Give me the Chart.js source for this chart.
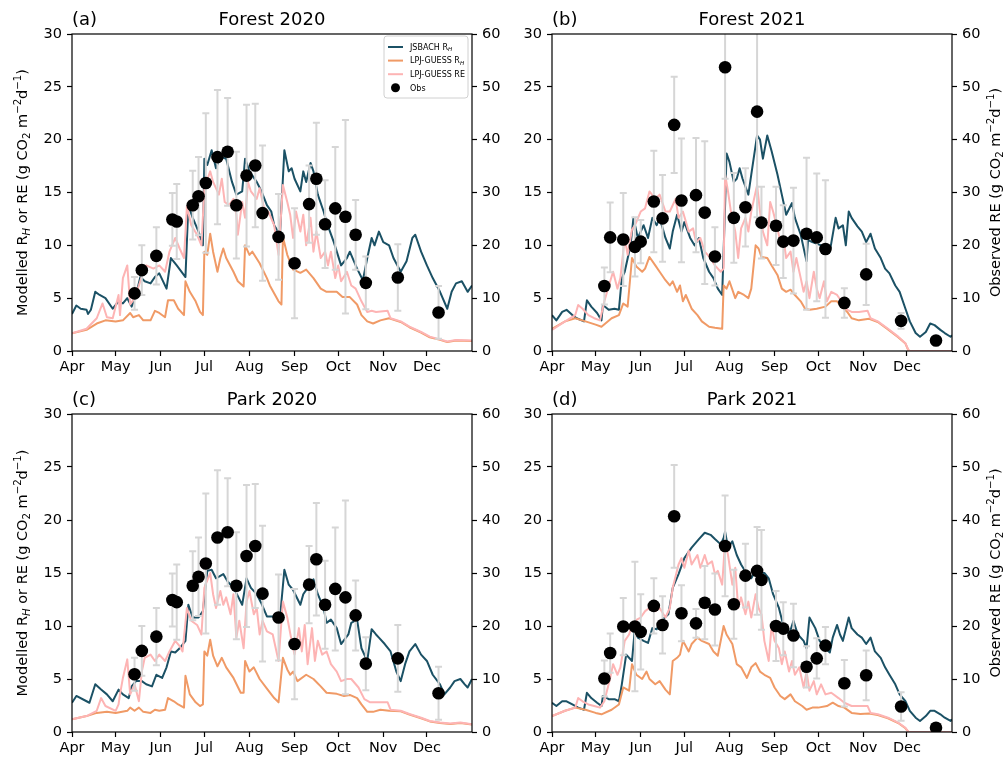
<!DOCTYPE html>
<html>
<head>
<meta charset="utf-8">
<title>Modelled vs observed respiration</title>
<script src="https://cdn.jsdelivr.net/npm/chart.js@4.4.1/dist/chart.umd.min.js"></script>
<style>
    html, body { margin: 0; padding: 0; background: #fff; }
    #figure { position: relative; width: 1008px; height: 763px; }
    #figure canvas { position: absolute; }
</style>
</head>
<body>
<div id="figure">
    <canvas id="panelA" width="504" height="382" style="left:0;top:0"></canvas>
    <canvas id="panelB" width="504" height="382" style="left:504px;top:0"></canvas>
    <canvas id="panelC" width="504" height="381" style="left:0;top:382px"></canvas>
    <canvas id="panelD" width="504" height="381" style="left:504px;top:382px"></canvas>
</div>
<script>
// ===== Data (x = days since 1 April, y = g CO2 m-2 d-1) =====

const monthStarts = [0, 30, 61, 91, 122, 153, 183, 214, 244];
const monthNames = ['Apr', 'May', 'Jun', 'Jul', 'Aug', 'Sep', 'Oct', 'Nov', 'Dec'];

// --- Forest 2020 ---
const forest2020Jsbach = [[0,3.5],[3,4.3],[6,4.0],[10,3.9],[11,3.5],[13,3.9],[16,5.6],[19,5.3],[23,5.0],[28,4.0],[32,4.7],[35,4.5],[38,5.0],[41,4.2],[44,5.3],[47,7.0],[50,6.6],[54,6.4],[57,7.0],[60,7.35],[65,5.9],[68,8.8],[72,8.1],[78,7.0],[80,13.8],[83,12.6],[87,11.3],[90,10.0],[91,18.2],[93,17.6],[96,19.0],[99,17.3],[102,18.4],[106,18.2],[110,16.0],[113,14.8],[117,15.1],[119,18.2],[122,17.0],[127,16.0],[130,15.2],[134,13.8],[137,13.2],[139,11.9],[143,11.0],[146,19.0],[149,17.0],[151,17.3],[153,16.3],[157,15.1],[159,17.0],[161,16.0],[164,17.8],[166,17.0],[169,14.8],[173,13.2],[175,12.2],[180,10.3],[185,8.1],[189,8.8],[191,9.4],[196,7.8],[200,6.7],[203,8.8],[206,10.7],[208,10.0],[211,11.3],[214,10.3],[218,10.0],[221,8.8],[226,7.5],[230,8.5],[234,10.7],[236,11.0],[240,9.4],[244,8.1],[248,6.9],[253,5.6],[258,4.0],[261,5.6],[264,6.4],[268,6.6],[272,5.6],[275,6.2]];
const forest2020LpjRh = [[0,1.67],[10,2.0],[17,2.6],[23,2.9],[30,2.8],[35,2.9],[40,3.6],[42,3.2],[46,3.4],[49,2.9],[54,2.9],[57,3.8],[60,3.6],[64,3.2],[66,4.8],[70,4.8],[73,4.0],[77,3.4],[78,6.6],[81,5.6],[85,4.7],[88,3.7],[90,3.4],[91,9.4],[93,9.1],[95,11.1],[97,9.4],[100,7.5],[102,8.8],[104,9.7],[106,8.8],[111,7.5],[114,6.6],[118,6.1],[119,10.0],[122,9.1],[124,9.4],[129,8.3],[134,6.9],[136,6.2],[142,4.7],[144,4.4],[145,10.8],[148,9.1],[152,7.7],[157,7.4],[161,7.7],[166,6.9],[171,5.9],[175,5.6],[182,5.6],[186,5.1],[191,5.1],[196,4.4],[199,3.4],[203,2.8],[207,2.6],[212,2.9],[218,3.1],[226,2.75],[232,2.25],[240,1.75],[246,1.3],[253,1.05],[258,0.85],[264,1.0],[275,0.95]];
const forest2020LpjRe = [[0,1.67],[10,2.1],[17,3.1],[21,4.5],[24,3.2],[28,3.1],[32,5.3],[33,3.4],[35,6.9],[38,8.1],[40,4.4],[43,5.0],[46,6.2],[49,7.5],[51,8.1],[56,7.8],[60,8.1],[64,7.5],[67,9.4],[71,10.7],[74,9.7],[77,8.8],[79,13.7],[82,11.9],[86,11.0],[89,10.0],[91,15.4],[95,17.0],[97,16.0],[101,14.8],[103,16.3],[105,14.1],[108,13.8],[111,14.4],[113,12.9],[114,11.0],[117,14.1],[119,12.6],[121,16.0],[123,15.1],[127,14.4],[129,15.4],[133,12.9],[135,13.2],[139,11.9],[142,9.1],[145,15.7],[148,14.1],[150,12.9],[152,10.7],[154,13.2],[157,11.3],[159,12.9],[161,10.0],[164,12.6],[166,9.4],[168,11.3],[171,8.8],[174,9.4],[176,8.1],[178,9.4],[181,6.9],[183,8.1],[185,6.6],[189,7.5],[192,6.2],[195,5.9],[199,4.7],[203,3.7],[206,3.8],[209,3.7],[217,3.8],[219,3.1],[226,2.8],[232,2.3],[240,1.8],[246,1.36],[253,1.1],[258,0.9],[264,1.04],[275,1.0]];

// --- Park 2020 ---
const park2020Jsbach = [[0,2.76],[3,3.4],[10,2.9],[12,2.76],[16,4.5],[20,4.0],[24,3.55],[28,2.9],[32,4.0],[35,3.55],[39,3.2],[41,4.3],[44,4.8],[48,4.8],[51,4.5],[55,4.3],[58,5.4],[62,5.1],[65,6.1],[68,7.6],[71,7.5],[74,7.9],[78,8.6],[80,12.0],[83,10.8],[87,10.8],[90,11.4],[93,15.2],[96,15.3],[99,14.5],[104,14.9],[107,14.2],[111,13.6],[113,13.1],[117,12.0],[120,14.5],[123,13.6],[127,13.0],[130,12.2],[134,10.9],[138,10.9],[143,10.8],[146,15.3],[149,13.9],[152,13.4],[157,12.0],[159,13.0],[162,13.6],[166,14.4],[169,13.0],[173,11.7],[175,10.3],[178,10.6],[182,9.8],[185,8.3],[190,9.2],[192,10.3],[196,10.6],[199,7.9],[203,6.7],[206,9.7],[209,9.2],[211,8.9],[215,8.3],[219,7.6],[223,5.7],[226,4.8],[229,6.4],[232,7.6],[236,8.3],[240,7.3],[244,6.7],[248,5.4],[253,4.5],[256,3.55],[260,4.2],[263,4.8],[267,5.0],[270,4.5],[272,4.2],[275,5.0]];
const park2020LpjRh = [[0,1.2],[10,1.5],[17,1.8],[24,1.9],[30,1.8],[38,2.0],[40,2.3],[43,2.0],[46,2.3],[49,1.9],[54,1.8],[57,2.1],[60,2.0],[64,2.1],[66,3.2],[70,2.9],[73,2.6],[77,2.3],[78,5.3],[81,3.55],[85,2.8],[88,2.45],[90,2.6],[91,7.6],[93,7.2],[95,8.7],[97,7.2],[100,6.2],[103,7.0],[106,6.1],[111,5.1],[116,3.7],[118,3.7],[119,6.7],[122,5.7],[125,6.1],[129,5.0],[134,4.1],[139,3.2],[142,2.8],[145,7.0],[148,5.9],[150,5.4],[152,5.7],[155,4.8],[161,5.4],[166,5.0],[171,4.3],[175,3.7],[182,3.6],[187,3.4],[191,3.5],[196,3.2],[199,2.6],[203,1.9],[207,1.9],[212,2.1],[218,2.0],[226,1.95],[232,1.65],[240,1.3],[246,1.0],[253,0.85],[260,0.75],[267,0.85],[275,0.7]];
const park2020LpjRe = [[0,1.2],[10,1.5],[17,2.0],[20,3.2],[23,2.45],[30,2.0],[32,2.6],[33,3.55],[35,5.1],[38,6.85],[40,3.55],[43,4.5],[46,2.9],[48,5.7],[50,7.0],[54,7.3],[57,6.7],[60,7.3],[64,6.7],[67,7.6],[71,8.6],[74,8.1],[76,7.6],[79,11.7],[82,10.5],[86,10.1],[89,9.2],[91,13.6],[95,15.0],[97,13.0],[99,11.7],[102,13.3],[104,12.0],[106,12.7],[109,11.1],[111,13.0],[113,8.9],[115,10.5],[118,7.9],[120,12.3],[122,13.3],[125,11.1],[127,11.7],[129,9.2],[131,10.5],[134,9.5],[138,9.2],[142,6.7],[145,12.3],[148,10.8],[151,8.6],[153,7.3],[156,9.8],[158,7.6],[160,10.1],[162,6.4],[165,9.8],[167,6.7],[169,8.6],[172,7.3],[175,7.6],[178,6.4],[182,5.7],[185,4.8],[189,5.0],[192,5.0],[197,4.2],[201,3.1],[205,2.8],[209,2.8],[217,2.8],[219,2.1],[226,2.0],[232,1.7],[240,1.35],[246,1.04],[253,0.9],[260,0.8],[267,0.9],[275,0.72]];

// --- Observations 2020 (same site series in both 2020 panels, right axis) ---
const obsDays2020 = [43, 48, 58, 69, 72, 83, 87, 92, 100, 107, 113, 120, 126, 131, 142, 153, 163, 168, 174, 181, 188, 195, 202, 224, 252];
const obs2020 = [10.9, 15.3, 18.0, 24.9, 24.5, 27.6, 29.3, 31.8, 36.7, 37.7, 27.6, 33.2, 35.1, 26.1, 21.6, 16.6, 27.8, 32.6, 24.0, 27.0, 25.4, 22.0, 12.9, 13.9, 7.3];
const obsErr2020 = [3.1, 4.7, 5.4, 5.0, 7.1, 6.5, 7.4, 13.2, 12.7, 10.2, 10.1, 13.4, 11.7, 12.8, 8.1, 10.4, 7.3, 10.6, 8.3, 11.6, 18.3, 6.6, 5.0, 6.3, 5.0];

// --- Forest 2021 ---
const forest2021Jsbach = [[0,3.4],[3,2.9],[7,3.7],[10,3.9],[14,3.4],[17,3.1],[22,2.8],[24,4.8],[27,4.2],[31,3.6],[34,2.9],[35,4.35],[39,3.9],[43,4.0],[46,3.9],[48,6.9],[50,7.5],[54,10.0],[56,12.6],[59,10.7],[63,11.9],[66,10.7],[69,12.6],[72,11.9],[74,12.6],[78,10.7],[81,9.7],[83,11.3],[86,12.9],[89,11.3],[91,12.2],[95,10.7],[98,10.0],[101,10.7],[104,8.8],[108,7.5],[111,6.9],[114,5.9],[117,5.3],[119,13.8],[120,18.7],[122,17.9],[125,16.0],[127,16.3],[129,17.3],[131,16.3],[135,14.8],[137,16.7],[141,20.4],[143,20.0],[145,18.2],[148,20.4],[151,18.9],[155,16.7],[158,14.8],[161,12.9],[165,14.0],[167,12.6],[171,11.0],[175,8.5],[176,10.5],[179,10.3],[185,10.0],[191,9.4],[195,12.6],[197,11.6],[200,11.9],[202,10.0],[204,13.2],[206,12.6],[210,11.8],[213,11.3],[216,10.3],[219,11.1],[222,9.7],[226,8.8],[229,7.8],[232,7.35],[236,6.2],[239,5.6],[243,4.0],[246,2.8],[250,1.7],[253,1.35],[257,1.8],[260,2.6],[263,2.45],[267,2.0],[270,1.7],[274,1.35],[275,1.5]];
const forest2021LpjRh = [[0,2.1],[9,2.8],[16,3.1],[23,2.8],[30,2.5],[34,2.3],[41,3.1],[46,3.4],[49,4.5],[52,4.2],[55,8.8],[58,8.0],[62,7.5],[64,7.8],[67,8.9],[71,8.1],[74,7.5],[78,6.7],[81,6.2],[83,6.6],[86,5.6],[88,6.2],[90,4.7],[92,5.3],[96,4.0],[100,3.4],[103,2.8],[108,2.3],[112,2.2],[117,2.1],[118,6.2],[120,5.9],[122,6.6],[126,5.0],[128,5.6],[132,5.3],[135,5.0],[137,5.9],[140,10.0],[142,9.7],[144,8.9],[148,8.8],[151,8.1],[155,7.2],[158,5.9],[161,5.6],[164,5.8],[167,5.3],[171,4.7],[174,4.0],[177,3.9],[182,4.0],[188,4.2],[192,4.7],[196,4.7],[199,4.2],[203,3.7],[206,3.1],[211,2.9],[218,3.05],[224,2.75],[231,2.05],[238,1.3],[243,0.7],[245,0.05],[246,0],[275,0]];
const forest2021LpjRe = [[0,2.0],[9,2.8],[16,3.4],[18,4.35],[21,4.0],[25,3.4],[29,3.1],[33,2.9],[36,4.7],[40,6.6],[42,7.5],[45,5.9],[47,6.9],[50,10.7],[52,9.1],[55,11.5],[57,11.9],[61,13.2],[64,13.5],[67,15.1],[71,14.4],[74,14.8],[78,13.2],[81,13.2],[85,14.4],[87,12.6],[90,13.2],[94,11.3],[97,11.6],[99,10.3],[102,10.7],[105,9.4],[109,8.8],[112,8.1],[116,7.5],[118,7.8],[119,16.7],[121,15.1],[123,13.2],[126,11.3],[128,8.8],[130,11.6],[133,12.6],[135,11.3],[137,13.2],[141,15.7],[143,13.2],[145,11.3],[148,10.0],[150,14.1],[152,13.2],[155,11.6],[157,10.3],[159,10.7],[161,8.8],[164,9.4],[166,7.5],[168,8.8],[171,6.9],[173,5.6],[175,6.6],[177,5.0],[180,7.5],[182,5.9],[184,5.0],[187,6.6],[189,4.7],[192,5.6],[196,5.3],[199,4.7],[203,3.9],[206,3.7],[211,3.7],[217,3.8],[219,3.1],[224,2.8],[231,2.1],[238,1.36],[243,0.73],[245,0.1],[246,0],[275,0]];

// --- Park 2021 ---
const park2021Jsbach = [[0,2.76],[3,2.45],[7,2.9],[10,2.9],[14,2.6],[18,2.3],[22,2.1],[24,3.7],[27,3.2],[31,2.76],[34,2.45],[35,3.4],[39,3.1],[43,3.1],[46,2.9],[48,4.5],[51,7.3],[55,6.7],[57,9.8],[59,8.9],[63,8.6],[66,8.4],[69,9.8],[72,9.7],[75,10.5],[80,11.1],[83,13.6],[87,14.9],[91,16.4],[96,17.4],[101,18.2],[105,18.8],[109,18.6],[112,18.2],[116,17.7],[118,18.3],[119,18.9],[121,17.4],[124,18.0],[127,16.7],[130,15.8],[134,14.9],[137,14.5],[140,15.2],[143,15.0],[146,15.0],[149,14.5],[152,13.0],[156,11.7],[159,10.1],[163,9.2],[166,10.5],[169,9.2],[173,8.6],[175,7.9],[177,10.8],[181,9.8],[184,8.6],[188,7.9],[191,7.5],[193,8.9],[196,10.1],[198,9.2],[200,8.6],[204,10.8],[206,9.8],[210,9.2],[213,8.9],[216,8.3],[219,8.9],[222,7.6],[226,7.0],[229,6.1],[232,5.4],[236,4.5],[239,3.55],[243,2.9],[246,2.0],[250,1.35],[253,1.04],[257,1.5],[260,2.0],[263,2.0],[267,1.67],[270,1.35],[274,1.04],[275,1.2]];
const park2021LpjRh = [[0,1.5],[9,2.0],[16,2.3],[23,2.1],[30,1.8],[34,1.67],[41,2.1],[46,2.6],[49,4.2],[53,3.9],[55,6.4],[58,5.4],[62,5.0],[65,5.7],[67,5.0],[71,4.5],[74,4.8],[78,4.0],[81,3.55],[83,6.7],[86,7.0],[88,7.3],[90,8.6],[94,7.6],[96,8.3],[100,8.9],[103,8.6],[108,8.3],[111,7.6],[114,7.2],[118,10.0],[120,9.2],[124,8.3],[127,6.4],[130,6.1],[134,5.1],[137,6.1],[140,6.5],[143,5.7],[146,5.4],[150,5.1],[153,4.2],[157,3.4],[160,3.1],[164,3.55],[167,2.9],[172,2.45],[175,2.1],[179,2.3],[183,2.3],[189,2.45],[193,2.76],[197,2.45],[201,2.3],[206,1.8],[212,1.7],[218,1.75],[224,1.6],[231,1.3],[238,0.85],[243,0.35],[245,0.02],[246,0],[275,0]];
const park2021LpjRe = [[0,1.5],[9,2.0],[16,2.3],[18,3.2],[21,2.9],[25,2.6],[29,2.45],[33,2.3],[36,2.9],[40,5.1],[42,6.4],[45,5.4],[47,6.1],[50,8.6],[53,9.2],[55,10.1],[57,10.5],[61,10.8],[64,11.4],[67,11.7],[71,11.4],[74,11.7],[78,10.8],[81,11.7],[83,13.6],[87,15.8],[89,16.4],[91,15.5],[94,17.1],[96,15.8],[100,16.7],[102,15.5],[105,16.7],[107,15.8],[110,16.1],[112,14.9],[114,15.2],[117,13.9],[119,18.0],[121,16.7],[124,13.9],[126,15.5],[128,11.7],[130,12.7],[133,11.1],[135,12.3],[137,10.8],[140,13.0],[142,11.7],[144,11.1],[146,8.6],[149,6.7],[151,10.1],[153,8.6],[156,7.9],[158,6.4],[160,7.6],[163,5.7],[165,6.7],[167,5.4],[170,6.1],[173,4.2],[175,5.7],[177,3.9],[180,4.8],[182,3.55],[185,4.5],[188,3.55],[192,3.7],[197,3.2],[201,2.76],[206,2.45],[212,2.45],[217,2.45],[219,1.8],[224,1.67],[231,1.35],[238,0.88],[243,0.4],[245,0.02],[246,0],[275,0]];

// --- Observations 2021 ---
const obsDays2021 = [36, 40, 49, 57, 61, 70, 76, 84, 89, 99, 105, 112, 119, 125, 133, 141, 144, 154, 159, 166, 175, 182, 188, 201, 216, 240, 264];
const obsForest2021 = [12.3, 21.5, 21.1, 19.7, 20.7, 28.3, 25.1, 42.8, 28.5, 29.5, 26.2, 17.9, 53.7, 25.2, 27.2, 45.3, 24.3, 23.7, 20.7, 20.9, 22.2, 21.5, 19.3, 9.1, 14.5, 5.7, 2.0];
const obsErrForest2021 = [3.5, 6.6, 8.8, 5.6, 4.1, 9.6, 8.2, 9.1, 11.7, 10.8, 13.5, 5.5, 21.1, 8.5, 7.4, 20.0, 6.8, 7.4, 6.9, 10.0, 14.4, 12.1, 13.0, 2.8, 5.8, 1.5, 0.6];
const obsPark2021 = [10.1, 14.9, 19.9, 19.9, 18.9, 23.8, 20.2, 40.7, 22.4, 20.5, 24.4, 23.1, 35.1, 24.1, 29.5, 30.4, 28.7, 20.0, 19.5, 18.2, 12.3, 13.9, 16.3, 9.2, 10.7, 4.8, 0.8];
const obsErrPark2021 = [3.4, 3.7, 5.4, 12.2, 7.1, 5.2, 5.4, 9.7, 5.3, 2.7, 6.9, 6.8, 9.5, 6.5, 6.0, 8.3, 9.4, 6.6, 5.0, 6.0, 3.9, 3.8, 3.5, 4.4, 4.7, 2.7, 0.5];

// ===== Styling =====
const TEAL = '#1b5165';
const ORANGE = '#f09a66';
const PINK = '#fdb4b4';
const ERR_GREY = '#d6d6d6';
const FONT = '"DejaVu Sans", Verdana, sans-serif';
const TICK_SIZE = 14.5;

// text pieces: [text, kind]  kind: '' normal, 'sub', 'isub' (italic sub), 'sup'
const leftTitle = [['Modelled R', ''], ['H', 'isub'], [' or RE (g CO', ''], ['2', 'sub'], [' m', ''], ['\u22122', 'sup'], ['d', ''], ['\u22121', 'sup'], [')', '']];
const rightTitle = [['Observed RE (g CO', ''], ['2', 'sub'], [' m', ''], ['\u22122', 'sup'], ['d', ''], ['\u22121', 'sup'], [')', '']];

function drawRich(ctx, parts, size, x, y, align, rotate) {
    const fontFor = function (k) {
        return (k === 'isub' ? 'italic ' : '') + (k ? size * 0.7 : size) + 'px ' + FONT;
    };
    let total = 0;
    parts.forEach(function (p) { ctx.font = fontFor(p[1]); total += ctx.measureText(p[0]).width; });
    ctx.save();
    ctx.translate(x, y);
    if (rotate) ctx.rotate(-Math.PI / 2);
    ctx.fillStyle = '#000';
    ctx.textAlign = 'left';
    ctx.textBaseline = 'alphabetic';
    let cx = align === 'center' ? -total / 2 : 0;
    const base = size * 0.36;
    parts.forEach(function (p) {
        ctx.font = fontFor(p[1]);
        let dy = 0;
        if (p[1] === 'sup') dy = -size * 0.42;
        else if (p[1]) dy = size * 0.2;
        ctx.fillText(p[0], cx, base + dy);
        cx += ctx.measureText(p[0]).width;
    });
    ctx.restore();
}

// error bars drawn just before the obs dots, title/frame/labels/legend after everything
const decorPlugin = {
    id: 'decor',
    beforeDatasetDraw(chart, args) {
        const ds = chart.data.datasets[args.index];
        if (!ds.errors) return;
        const ctx = chart.ctx, a = chart.chartArea;
        const xs = chart.scales.x, ys = chart.scales.y2;
        ctx.save();
        ctx.beginPath();
        ctx.rect(a.left, a.top, a.right - a.left, a.bottom - a.top);
        ctx.clip();
        ctx.strokeStyle = ERR_GREY;
        ctx.lineWidth = 2;
        ds.data.forEach(function (p, i) {
            const px = xs.getPixelForValue(p.x);
            const top = ys.getPixelForValue(p.y + ds.errors[i]);
            const bot = ys.getPixelForValue(p.y - ds.errors[i]);
            ctx.beginPath();
            ctx.moveTo(px, top); ctx.lineTo(px, bot);
            ctx.moveTo(px - 3.5, top); ctx.lineTo(px + 3.5, top);
            ctx.moveTo(px - 3.5, bot); ctx.lineTo(px + 3.5, bot);
            ctx.stroke();
        });
        ctx.restore();
    },
    afterDraw(chart, args, opts) {
        const ctx = chart.ctx, a = chart.chartArea;
        ctx.save();
        // frame
        ctx.strokeStyle = '#000';
        ctx.lineWidth = 1.2;
        ctx.strokeRect(a.left, a.top, a.right - a.left, a.bottom - a.top);
        // panel letter + title
        ctx.fillStyle = '#000';
        ctx.font = '18px ' + FONT;
        ctx.textBaseline = 'alphabetic';
        ctx.textAlign = 'left';
        ctx.fillText(opts.letter, a.left, a.top - 9);
        ctx.textAlign = 'center';
        ctx.fillText(opts.title, (a.left + a.right) / 2, a.top - 9);
        ctx.restore();
        const midY = (a.top + a.bottom) / 2;
        if (opts.leftLabel) drawRich(ctx, leftTitle, TICK_SIZE, 22, midY, 'center', true);
        if (opts.rightLabel) drawRich(ctx, rightTitle, TICK_SIZE, a.right + 43, midY, 'center', true);
        if (opts.legend) drawLegend(ctx, a);
    }
};

function drawLegend(ctx, a) {
    const bx = a.right - 88, by = a.top + 2, bw = 84, bh = 62;
    ctx.save();
    ctx.fillStyle = 'rgba(255,255,255,0.85)';
    ctx.strokeStyle = '#d0d0d0';
    ctx.lineWidth = 1;
    ctx.beginPath();
    ctx.roundRect(bx, by, bw, bh, 3);
    ctx.fill();
    ctx.stroke();
    const rows = [
        { color: TEAL, parts: [['JSBACH R', ''], ['H', 'isub']] },
        { color: ORANGE, parts: [['LPJ-GUESS R', ''], ['H', 'isub']] },
        { color: PINK, parts: [['LPJ-GUESS RE', '']] },
        { dot: true, parts: [['Obs', '']] }
    ];
    rows.forEach(function (r, i) {
        const ry = by + 11 + i * 13.6;
        if (r.dot) {
            ctx.fillStyle = '#000';
            ctx.beginPath();
            ctx.arc(bx + 11.5, ry, 4.5, 0, Math.PI * 2);
            ctx.fill();
        } else {
            ctx.strokeStyle = r.color;
            ctx.lineWidth = 2;
            ctx.beginPath();
            ctx.moveTo(bx + 4, ry); ctx.lineTo(bx + 19, ry);
            ctx.stroke();
        }
        drawRich(ctx, r.parts, 8, bx + 26, ry, 'left', false);
    });
    ctx.restore();
}

function lineSet(label, pairs, color, order) {
    return {
        label: label,
        data: pairs.map(function (p) { return { x: p[0], y: p[1] }; }),
        yAxisID: 'y',
        borderColor: color,
        backgroundColor: color,
        borderWidth: 2,
        borderJoinStyle: 'round',
        pointRadius: 0,
        tension: 0,
        fill: false,
        order: order
    };
}

function buildPanel(canvasId, p) {
    const tickFont = { family: FONT, size: TICK_SIZE };
    const grid = { drawOnChartArea: false, drawTicks: true, tickLength: 5, tickWidth: 1.2, tickColor: '#000' };
    return new Chart(document.getElementById(canvasId), {
        type: 'line',
        data: {
            datasets: [
                lineSet('JSBACH RH', p.jsbach, TEAL, 4),
                lineSet('LPJ-GUESS RH', p.lpjRh, ORANGE, 3),
                lineSet('LPJ-GUESS RE', p.lpjRe, PINK, 2),
                {
                    type: 'scatter',
                    label: 'Obs',
                    data: p.obsDays.map(function (d, i) { return { x: d, y: p.obs[i] }; }),
                    errors: p.obsErr,
                    yAxisID: 'y2',
                    pointRadius: 6.3,
                    pointBackgroundColor: '#000',
                    pointBorderWidth: 0,
                    order: 0
                }
            ]
        },
        options: {
            responsive: false,
            animation: false,
            events: [],
            layout: { padding: { top: p.top, left: 0, right: 0, bottom: 0 } },
            plugins: {
                legend: { display: false },
                title: { display: false },
                tooltip: { enabled: false },
                decor: { letter: p.letter, title: p.title, leftLabel: p.leftLabel, rightLabel: p.rightLabel, legend: p.legend }
            },
            scales: {
                x: {
                    type: 'linear',
                    position: 'bottom',
                    min: 0,
                    max: 275,
                    afterBuildTicks: function (s) { s.ticks = monthStarts.map(function (v) { return { value: v }; }); },
                    afterFit: function (s) { s.height = 31; },
                    border: { display: false },
                    grid: grid,
                    ticks: {
                        autoSkip: false,
                        maxRotation: 0,
                        padding: 3,
                        color: '#000',
                        font: tickFont,
                        callback: function (v) { return monthNames[monthStarts.indexOf(v)]; }
                    }
                },
                y: {
                    type: 'linear',
                    position: 'left',
                    min: 0,
                    max: 30,
                    afterFit: function (s) { s.width = p.leftW; },
                    border: { display: false },
                    grid: grid,
                    ticks: { stepSize: 5, padding: 5, color: '#000', font: tickFont }
                },
                y2: {
                    type: 'linear',
                    position: 'right',
                    min: 0,
                    max: 60,
                    afterFit: function (s) { s.width = p.rightW; },
                    border: { display: false },
                    grid: grid,
                    ticks: { stepSize: 10, padding: 5, color: '#000', font: tickFont }
                }
            }
        },
        plugins: [decorPlugin]
    });
}

buildPanel('panelA', {
    letter: '(a)', title: 'Forest 2020', top: 34, leftW: 72, rightW: 32,
    leftLabel: true, rightLabel: false, legend: true,
    jsbach: forest2020Jsbach, lpjRh: forest2020LpjRh, lpjRe: forest2020LpjRe,
    obsDays: obsDays2020, obs: obs2020, obsErr: obsErr2020
});
buildPanel('panelB', {
    letter: '(b)', title: 'Forest 2021', top: 34, leftW: 48, rightW: 56,
    leftLabel: false, rightLabel: true, legend: false,
    jsbach: forest2021Jsbach, lpjRh: forest2021LpjRh, lpjRe: forest2021LpjRe,
    obsDays: obsDays2021, obs: obsForest2021, obsErr: obsErrForest2021
});
buildPanel('panelC', {
    letter: '(c)', title: 'Park 2020', top: 32, leftW: 72, rightW: 32,
    leftLabel: true, rightLabel: false, legend: false,
    jsbach: park2020Jsbach, lpjRh: park2020LpjRh, lpjRe: park2020LpjRe,
    obsDays: obsDays2020, obs: obs2020, obsErr: obsErr2020
});
buildPanel('panelD', {
    letter: '(d)', title: 'Park 2021', top: 32, leftW: 48, rightW: 56,
    leftLabel: false, rightLabel: true, legend: false,
    jsbach: park2021Jsbach, lpjRh: park2021LpjRh, lpjRe: park2021LpjRe,
    obsDays: obsDays2021, obs: obsPark2021, obsErr: obsErrPark2021
});
</script>
</body>
</html>
